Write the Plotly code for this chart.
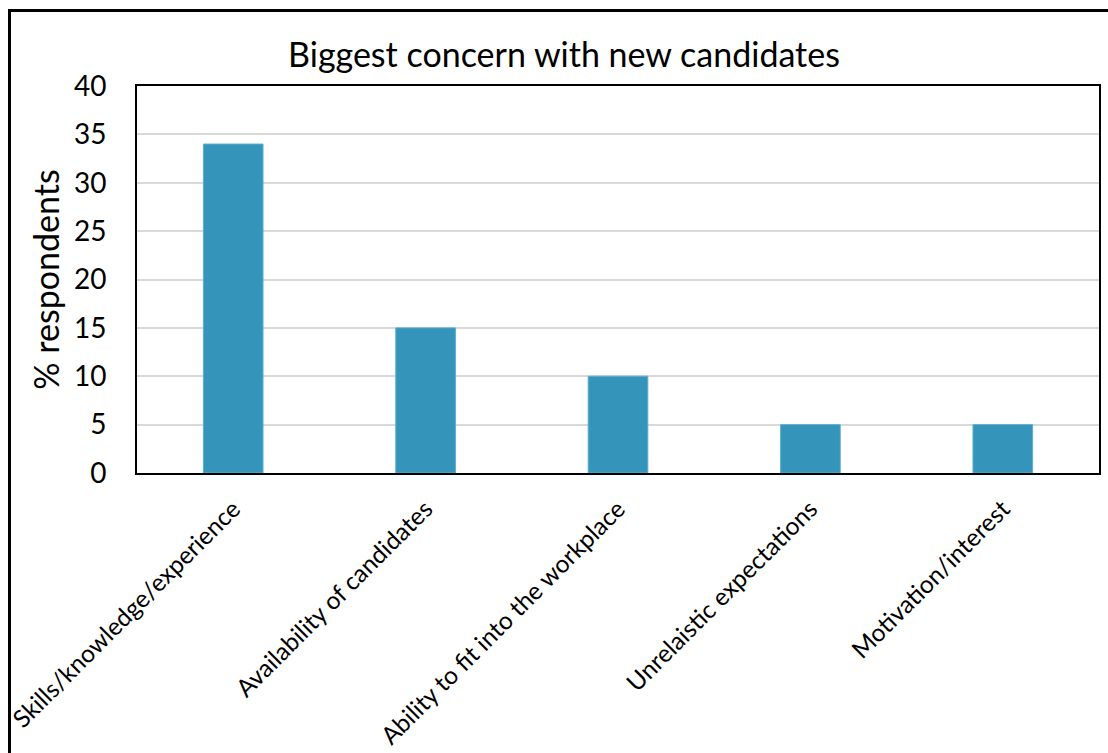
import plotly.graph_objects as go

# Survey results: biggest concern employers have with new candidates
categories = [
    "Skills/knowledge/experience",
    "Availability of candidates",
    "Ability to fit into the workplace",
    "Unrelaistic expectations",
    "Motivation/interest",
]
respondents_pct = [34, 15, 10, 5, 5]
y_ticks = [0, 5, 10, 15, 20, 25, 30, 35, 40]

W, H = 1108, 753
L, R, T, B = 137, 9, 86, 280
pw, ph = W - L - R, H - T - B

FONT = "Lato"
BAR_COLOR = "#3494BA"

fig = go.Figure(
    go.Bar(
        x=categories,
        y=respondents_pct,
        marker=dict(color=BAR_COLOR, line=dict(color="#5AAED0", width=1)),
    )
)

# Outer chart frame (only left and top edges fall inside the page)
def px_x(v):
    return (v - L) / pw

def px_y(v):
    return (H - B - v) / ph

fig.add_shape(
    type="rect", xref="paper", yref="paper",
    x0=px_x(9.5), x1=px_x(W + 20), y0=px_y(10.5), y1=px_y(H + 20),
    line=dict(color="black", width=3), layer="above",
)

fig.update_layout(
    width=W, height=H,
    margin=dict(l=L, r=R, t=T, b=B, autoexpand=False),
    paper_bgcolor="white", plot_bgcolor="white",
    bargap=0.69,
    showlegend=False,
    font=dict(family=FONT, color="black"),
    title=dict(
        text="Biggest concern with new candidates",
        font=dict(family=FONT, size=34, color="black"),
        x=(285 + 843) / 2 / W, xanchor="center", xref="container",
        y=1 - 55 / H, yanchor="middle", yref="container",
    ),
    xaxis=dict(
        tickangle=-45,
        tickfont=dict(family=FONT, size=24.5, color="black"),
        showline=True, linecolor="black", linewidth=2, mirror=True,
        ticks="", ticklabelstandoff=10,
        showgrid=False, automargin=False,
    ),
    yaxis=dict(
        range=[0, 40],
        tickvals=y_ticks,
        tickfont=dict(family=FONT, size=28, color="black"),
        showline=True, linecolor="black", linewidth=2, mirror=True,
        gridcolor="#D9D9D9", gridwidth=2,
        ticks="", ticklabelstandoff=23,
        zeroline=False, automargin=False,
        title=dict(text="% respondents", font=dict(family=FONT, size=34, color="black"), standoff=4),
    ),
)

fig.write_html("out.html")
